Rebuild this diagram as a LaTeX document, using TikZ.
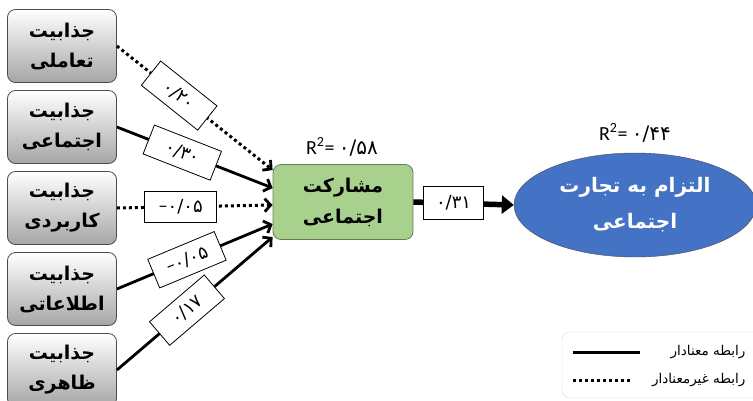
\documentclass[tikz,border=0pt]{standalone}
\usepackage{fontspec}
\setmainfont{Carlito}
\newfontfamily\fa[Script=Arabic]{DejaVu Sans}
\TeXXeTstate=1
\usetikzlibrary{arrows.meta, shapes.geometric, positioning}
\definecolor{partgreen}{HTML}{A9D18E}
\definecolor{commblue}{HTML}{4472C4}
\newcommand{\coefminus}{{\rmfamily −}}
\tikzset{
  % box of one kind of attractiveness
  attr/.style={draw=black!70, thick, rounded corners=8pt, minimum width=109pt,
    minimum height=73pt, top color=white, bottom color=black!35, align=center,
    font=\fa\bfseries\fontsize{19}{30}\selectfont},
  % mediating variable
  partic/.style={draw=partgreen!60!black, thick, fill=partgreen, rounded corners=8pt,
    minimum width=140pt, minimum height=75pt, align=center,
    font=\fa\bfseries\fontsize{19}{31}\selectfont},
  % outcome variable
  commit/.style={ellipse, draw=black!70, fill=commblue, text=white, minimum width=242pt,
    minimum height=104pt, align=center, font=\fa\bfseries\fontsize{20}{36}\selectfont},
  % coefficient on a path
  coef/.style={draw, solid, fill=white, line width=0.8pt, minimum width=72pt, minimum height=31pt,
    inner sep=2pt, font=\fa\fontsize{18}{20}\selectfont},
  % paths
  sig/.style={line width=2.8pt, -{Straight Barb[length=6pt, width=13pt]}},
  nsig/.style={line width=3pt, dash pattern=on 3pt off 3pt,
    -{Straight Barb[length=6pt, width=13pt, line width=2.8pt]}},
  bigpath/.style={line width=5.5pt, -{Triangle[length=12pt, width=18pt]}},
  % R squared
  rsq/.style={font=\fontsize{20}{22}\selectfont},
  % legend
  legbox/.style={draw=black!15, rounded corners=8pt, minimum width=200pt, minimum height=66pt},
  legtxt/.style={font=\fa\fontsize{13.5}{15}\selectfont},
}
\begin{document}
\begin{tikzpicture}[x=1pt, y=-1pt]
  \useasboundingbox (0,0) rectangle (753,400);
  \node[attr] (inter) at (62,46) {\beginR جذابیت\endR\\\beginR تعاملی\endR};
  \node[attr] (social) at (62,127) {\beginR جذابیت\endR\\\beginR اجتماعی\endR};
  \node[attr] (usage) at (62,208) {\beginR جذابیت\endR\\\beginR کاربردی\endR};
  \node[attr] (info) at (62,289) {\beginR جذابیت\endR\\\beginR اطلاعاتی\endR};
  \node[attr] (look) at (62,370) {\beginR جذابیت\endR\\\beginR ظاهری\endR};
  \node[partic] (part) at (343,202) {\beginR مشارکت\endR\\\beginR اجتماعی\endR};
  \node[commit] (commit) at (635,205) {\beginR التزام به تجارت\endR\\\beginR اجتماعی\endR};
  \node[rsq] (rpart) at (342,147) {R\textsuperscript{2}= {\fa ۰/۵۸}};
  \node[rsq] (rcommit) at (635,133) {R\textsuperscript{2}= {\fa ۰/۴۴}};
  \draw[nsig] (inter.east) -- node[coef, sloped, pos=0.4] {۰/۲۰} ([yshift=32pt]part.west);
  \draw[sig] (social.east) -- node[coef, sloped, pos=0.42] {۰/۳۰} ([yshift=14pt]part.west);
  \draw[nsig] (usage.east) -- node[coef, pos=0.41] {\coefminus۰/۰۵} ([yshift=-3pt]part.west);
  \draw[sig] (info.east) -- node[coef, sloped, pos=0.45] {\coefminus۰/۰۵} ([yshift=-22pt]part.west);
  \draw[sig] (look.east) -- node[coef, sloped, pos=0.45] {۰/۱۷} ([yshift=-35pt]part.west);
  \draw[bigpath] (part.east) -- node[coef, minimum width=60pt, minimum height=33pt, pos=0.4] {۰/۳۱} (commit.west);
  % legend
  \node[legbox] (legend) at (662,365) {};
  \coordinate (sigA) at (573,352);
  \coordinate (sigB) at (640,352);
  \coordinate (nsigA) at (573,380);
  \coordinate (nsigB) at (630,380);
  \draw[line width=3pt] (sigA) -- (sigB);
  \draw[line width=3pt, dash pattern=on 3pt off 3pt] (nsigA) -- (nsigB);
  \node[legtxt, anchor=east] (lsig) at (749,352) {\beginR رابطه معنادار\endR};
  \node[legtxt, anchor=east] (lnsig) at (749,380) {\beginR رابطه غیرمعنادار\endR};
\end{tikzpicture}
\end{document}
